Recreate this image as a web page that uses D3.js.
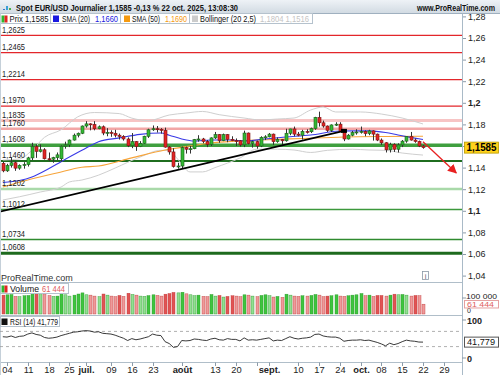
<!DOCTYPE html>
<html><head><meta charset="utf-8">
<script src="https://cdn.jsdelivr.net/npm/d3@7"></script>
<style>body{margin:0;background:#fff}svg{display:block}</style>
</head><body><svg id="c" width="500" height="375"></svg>
<script>
// ---------- DATA ----------
const opens = [1.1440,1.1370,1.1420,1.1445,1.1395,1.1420,1.1428,1.1490,1.1595,1.1550,
1.1565,1.1482,1.1478,1.1492,1.1482,1.1598,1.1610,1.1655,1.1700,1.1718,
1.1785,1.1805,1.1800,1.1760,1.1778,1.1720,1.1726,1.1718,1.1700,1.1688,
1.1665,1.1602,1.1640,1.1595,1.1625,1.1690,1.1750,1.1760,1.1755,1.1745,
1.1590,1.1545,1.1410,1.1415,1.1585,1.1570,1.1575,1.1660,1.1665,1.1642,
1.1615,1.1675,1.1705,1.1650,1.1705,1.1662,1.1650,1.1648,1.1610,1.1720,
1.1622,1.1640,1.1600,1.1680,1.1685,1.1710,1.1640,1.1660,1.1648,1.1718,
1.1758,1.1710,1.1700,1.1735,1.1732,1.1762,1.1865,1.1815,1.1785,1.1745,
1.1795,1.1802,1.1735,1.1665,1.1700,1.1725,1.1730,1.1735,1.1715,1.1740,
1.1710,1.1655,1.1630,1.1565,1.1615,1.1570,1.1610,1.1645,1.1688,1.1655,
1.1642,1.1600];
const highs = [1.1455,1.1435,1.1495,1.1460,1.1430,1.1450,1.1500,1.1630,1.1615,1.1615,
1.1580,1.1540,1.1500,1.1540,1.1605,1.1640,1.1660,1.1715,1.1725,1.1790,
1.1830,1.1810,1.1830,1.1790,1.1790,1.1765,1.1745,1.1750,1.1715,1.1700,
1.1680,1.1720,1.1645,1.1645,1.1695,1.1760,1.1790,1.1785,1.1765,1.1770,
1.1600,1.1580,1.1445,1.1595,1.1595,1.1600,1.1665,1.1700,1.1675,1.1655,
1.1680,1.1730,1.1710,1.1715,1.1710,1.1690,1.1670,1.1655,1.1742,1.1725,
1.1650,1.1650,1.1690,1.1700,1.1720,1.1715,1.1680,1.1665,1.1760,1.1760,
1.1780,1.1730,1.1750,1.1755,1.1770,1.1870,1.1918,1.1835,1.1790,1.1800,
1.1820,1.1820,1.1740,1.1710,1.1740,1.1755,1.1780,1.1745,1.1750,1.1745,
1.1715,1.1670,1.1635,1.1630,1.1625,1.1625,1.1655,1.1690,1.1730,1.1670,
1.1650,1.1610];
const lows = [1.1357,1.1360,1.1400,1.1370,1.1380,1.1390,1.1410,1.1470,1.1490,1.1540,
1.1475,1.1460,1.1445,1.1470,1.1455,1.1575,1.1590,1.1650,1.1680,1.1710,
1.1770,1.1745,1.1745,1.1755,1.1700,1.1690,1.1685,1.1680,1.1660,1.1650,
1.1590,1.1580,1.1555,1.1590,1.1620,1.1675,1.1740,1.1725,1.1715,1.1585,
1.1520,1.1400,1.1390,1.1390,1.1530,1.1530,1.1570,1.1640,1.1625,1.1590,
1.1600,1.1665,1.1630,1.1645,1.1635,1.1645,1.1600,1.1595,1.1590,1.1615,
1.1585,1.1575,1.1590,1.1655,1.1680,1.1610,1.1630,1.1610,1.1640,1.1700,
1.1690,1.1690,1.1660,1.1715,1.1720,1.1750,1.1780,1.1770,1.1730,1.1730,
1.1785,1.1730,1.1645,1.1660,1.1690,1.1705,1.1715,1.1690,1.1700,1.1650,
1.1645,1.1610,1.1540,1.1540,1.1545,1.1540,1.1590,1.1630,1.1650,1.1630,
1.1590,1.1575];
const closes = [1.1370,1.1420,1.1445,1.1395,1.1420,1.1428,1.1490,1.1595,1.1550,1.1565,
1.1482,1.1478,1.1492,1.1518,1.1598,1.1610,1.1655,1.1700,1.1718,1.1785,
1.1805,1.1800,1.1760,1.1778,1.1720,1.1726,1.1718,1.1700,1.1688,1.1665,
1.1602,1.1640,1.1595,1.1625,1.1690,1.1750,1.1760,1.1755,1.1745,1.1590,
1.1545,1.1410,1.1415,1.1585,1.1570,1.1575,1.1660,1.1665,1.1642,1.1615,
1.1675,1.1705,1.1650,1.1705,1.1662,1.1650,1.1648,1.1610,1.1720,1.1622,
1.1640,1.1600,1.1680,1.1685,1.1710,1.1640,1.1660,1.1648,1.1718,1.1758,
1.1710,1.1700,1.1735,1.1732,1.1762,1.1865,1.1815,1.1785,1.1745,1.1795,
1.1802,1.1735,1.1665,1.1700,1.1725,1.1730,1.1735,1.1715,1.1740,1.1710,
1.1655,1.1630,1.1565,1.1615,1.1570,1.1610,1.1645,1.1688,1.1655,1.1642,
1.1600,1.1585];
const volumes = [118000,120000,122000,110000,108000,114000,116000,124000,130000,126000,
122000,115000,110000,112000,134000,120000,112000,118000,125000,132000,
120000,118000,112000,108000,125000,118000,112000,108000,116000,110000,
130000,122000,118000,112000,110000,115000,120000,116000,112000,124000,
128000,135000,132000,136000,126000,120000,114000,118000,110000,108000,
122000,112000,116000,106000,110000,114000,112000,108000,120000,118000,
112000,108000,116000,120000,114000,106000,110000,104000,124000,118000,
112000,110000,114000,112000,116000,122000,118000,108000,112000,114000,
120000,112000,110000,114000,118000,120000,128000,114000,118000,110000,
116000,116000,112000,118000,124000,120000,122000,118000,112000,116000,
114000,61444];
const rsi = [56,55,58,54,57,58,63,66,62,60,
54,52,53,55,59,62,65,68,69,71,
72,71,68,69,65,64,63,60,56,52,
46,51,48,50,53,56,63,60,59,43,
38,28,30,46,45,46,50,49,47,46,
50,52,48,47,51,49,49,45,53,47,
48,47,49,51,53,45,47,46,51,56,
52,50,52,53,55,62,63,58,56,55,
55,52,44,46,47,47,48,46,47,44,
41,37,32,39,35,38,43,47,45,44,
42,41.779];
// indicator knots: [trading-day index, value]
const sma20 = [[0,1.1262],[4,1.1280],[7,1.1313],[11,1.1390],[14,1.1455],[19,1.1560],[23,1.1640],[28,1.1675],[33,1.1708],[38,1.1720],[40,1.1700],[43,1.1665],[46,1.1646],[50,1.1656],[55,1.1655],[58,1.1646],[63,1.1665],[68,1.1683],[74,1.1702],[81,1.1739],[88,1.1740],[92,1.1725],[95,1.1702],[98,1.1680],[101,1.1660]];
const sma50 = [[0,1.1220],[6,1.1285],[13,1.1350],[19,1.1403],[23,1.1415],[31,1.1490],[39,1.1563],[45,1.1600],[50,1.1628],[56,1.1645],[62,1.1656],[72,1.1670],[82,1.1683],[92,1.1688],[101,1.1690]];
const bbUpper = [[0,1.1470],[4,1.1480],[7,1.1560],[10,1.1680],[14,1.1750],[18,1.1870],[22,1.1910],[28,1.1900],[31,1.1858],[35,1.1835],[40,1.1887],[44,1.1905],[48,1.1920],[52,1.1890],[58,1.1859],[62,1.1841],[66,1.1850],[70,1.1859],[74,1.1933],[77,1.1961],[80,1.1915],[86,1.1915],[91,1.1896],[96,1.1859],[101,1.1804]];
const bbLower = [[0,1.1100],[4,1.1130],[9,1.1174],[14,1.1220],[16,1.1267],[19,1.1285],[23,1.1330],[27,1.1396],[33,1.1498],[38,1.1560],[40,1.1560],[42,1.1480],[45,1.1360],[48,1.1360],[51,1.1400],[57,1.1489],[61,1.1570],[66,1.1570],[70,1.1563],[74,1.1540],[78,1.1560],[84,1.1570],[88,1.1563],[92,1.1560],[96,1.1535],[101,1.1516]];
const levels = [1.2625,1.2465,1.2214,1.1970,1.1835,1.1760,1.1608,1.1460,1.1202,1.1012,1.0734,1.0608];
const levelLabels = ["1,2625","1,2465","1,2214","1,1970","1,1835","1,1760","1,1608","1,1460","1,1202","1,1012","1,0734","1,0608"];
const trendLine = [[-1,1.0989],[82,1.1740]];
const arrowLine = [[101,1.1640],[109,1.1350]];
const priceTicks = [1.28,1.26,1.24,1.22,1.2,1.18,1.16,1.14,1.12,1.1,1.08,1.06,1.04];
const timeTickIdx = [1,6,11,16,20,26,31,36,43,51,56,61,64,71,76,81,86,91,96,101,106];
const timeTickLabels = ["04","11","18","25","juil.","09","16","23","août","13","20","","sept.","10","17","24","oct.","08","15","22","29"];
const lastPrice = 1.1585, lastVolume = 61444, lastRsi = 41.779;

// ---------- STYLES ----------
const FONT = "'Liberation Sans Narrow','Arial Narrow','Liberation Sans',sans-serif";
const levelStyle = [
 ["#e3262b",1.3],["#e3262b",1.3],["#e3262b",1.3],["#e3262b",1.3],
 ["#f7c4c4",3],["#f2a6a6",2.5],["#3f9f3f",3.5],["#1f6d1f",2],
 ["#a9d9a9",2.5],["#3c983c",1.5],["#2f8a2f",1.5],["#1d6a1d",3]];

const svg = d3.select("#c").style("font-family",FONT);
const xS = d3.scaleLinear().domain([0,101]).range([2.84,423]);
const yP = d3.scaleLinear().domain([1.06,1.28]).range([254,16.4]);
const yV = d3.scaleLinear().domain([0,100000]).range([314,298]);
const yR = d3.scaleLinear().domain([0,100]).range([358,320]);
const AX = 462;

function fitText(sel, x, y, str, w, size, color, weight, anchor){
  return sel.append("text").attr("x",x).attr("y",y).attr("font-size",size).attr("fill",color)
    .attr("font-weight",weight||"normal").attr("text-anchor",anchor||"start")
    .attr("textLength",w).attr("lengthAdjust","spacingAndGlyphs").text(str);
}

// header
const defs = svg.append("defs");
const g1 = defs.append("linearGradient").attr("id","hdr").attr("x1",0).attr("y1",0).attr("x2",0).attr("y2",1);
g1.append("stop").attr("offset",0).attr("stop-color","#eef2f6");
g1.append("stop").attr("offset",1).attr("stop-color","#d2dbe3");
svg.append("rect").attr("x",0).attr("y",0).attr("width",500).attr("height",13).attr("fill","url(#hdr)");
svg.append("line").attr("x1",0).attr("x2",500).attr("y1",13.5).attr("y2",13.5).attr("stroke","#9fb0bf");
[[3,6,"#3a78c8"],[6,3,"#3aa0d8"],[9,5,"#4bb04b"]].forEach(d=>{
  svg.append("rect").attr("x",d[0]).attr("y",3+d[1]).attr("width",2).attr("height",10-3-d[1]).attr("fill",d[2]);
});
fitText(svg,16,10.5,"Spot EUR/USD Journalier 1,1585 -0,13 % 22 oct. 2025, 13:08:30",222,8.8,"#111","bold");
fitText(svg,495,10.5,"www.ProRealTime.com",78,8.8,"#111","bold","end");

// clip for price panel
defs.append("clipPath").attr("id","pc").append("rect").attr("x",0).attr("y",14).attr("width",AX).attr("height",268);
defs.append("clipPath").attr("id","fc").append("rect").attr("x",0).attr("y",14).attr("width",500).attr("height",268);
const P = svg.append("g").attr("clip-path","url(#pc)");

// levels
levels.forEach((v,i)=>{
  P.append("line").attr("x1",0).attr("x2",AX).attr("y1",yP(v)).attr("y2",yP(v))
   .attr("stroke",levelStyle[i][0]).attr("stroke-width",levelStyle[i][1]);
});
// bollinger & sma
const ln = d3.line().x(d=>xS(d[0])).y(d=>yP(d[1])).curve(d3.curveMonotoneX);
P.append("path").attr("d",ln(bbUpper)).attr("fill","none").attr("stroke","#cfcfcf").attr("stroke-width",1);
P.append("path").attr("d",ln(bbLower)).attr("fill","none").attr("stroke","#cfcfcf").attr("stroke-width",1);
P.append("path").attr("d",ln(sma50)).attr("fill","none").attr("stroke","#f7a43a").attr("stroke-width",1.1);
P.append("path").attr("d",ln(sma20)).attr("fill","none").attr("stroke","#3a3ae6").attr("stroke-width",1.1);

// candles
const idx = d3.range(closes.length);
const cg = P.append("g");
cg.selectAll("line.w").data(idx).join("line")
  .attr("x1",i=>Math.round(xS(i))+0.5).attr("x2",i=>Math.round(xS(i))+0.5)
  .attr("y1",i=>yP(highs[i])).attr("y2",i=>yP(lows[i])).attr("stroke","#333").attr("stroke-width",1);
cg.selectAll("rect").data(idx).join("rect")
  .attr("x",i=>Math.round(xS(i))-1).attr("width",3)
  .attr("y",i=>yP(Math.max(opens[i],closes[i])))
  .attr("height",i=>Math.max(1,yP(Math.min(opens[i],closes[i]))-yP(Math.max(opens[i],closes[i]))))
  .attr("fill",i=>closes[i]>=opens[i]?"#33b833":"#e22424")
  .attr("stroke",i=>closes[i]>=opens[i]?"#1c5e1c":"#7a1414").attr("stroke-width",0.6);

// trendline
P.append("path").attr("d",d3.line().x(d=>xS(d[0])).y(d=>yP(d[1]))(trendLine))
  .attr("stroke","#000").attr("stroke-width",1.8).attr("fill","none");
P.append("rect").attr("x",xS(trendLine[1][0])-3).attr("y",yP(trendLine[1][1])-2).attr("width",6).attr("height",4).attr("fill","#000");

// level labels
levels.forEach((v,i)=>{
  fitText(svg,2,yP(v)-2.8,levelLabels[i],23,8.8,"#222");
});

// arrow
defs.append("marker").attr("id","ah").attr("viewBox","0 0 10 10").attr("refX",9).attr("refY",5)
 .attr("markerWidth",7).attr("markerHeight",7).attr("orient","auto")
 .append("path").attr("d","M0,0L10,5L0,10z").attr("fill","#e82020");
svg.append("g").attr("clip-path","url(#fc)").append("path")
 .attr("d",d3.line().x(d=>xS(d[0])).y(d=>yP(d[1]))(arrowLine))
 .attr("stroke","#e82020").attr("stroke-width",1.3).attr("fill","none").attr("marker-end","url(#ah)");

// legend row
const L = svg.append("g");
L.append("rect").attr("x",0.5).attr("y",13.5).attr("width",312).attr("height",10).attr("fill","#fff").attr("stroke","#b5c2cd");
[50.5,120.5,189.5].forEach(x=>L.append("line").attr("x1",x).attr("x2",x).attr("y1",13.5).attr("y2",23.5).attr("stroke","#b5c2cd"));
L.append("rect").attr("x",1.5).attr("y",15.5).attr("width",3).attr("height",7).attr("fill","#2fb82f");
L.append("rect").attr("x",4.5).attr("y",15.5).attr("width",3).attr("height",7).attr("fill","#e22424");
fitText(L,9.5,21.7,"Prix 1,1585",39,8.8,"#111");
L.append("rect").attr("x",53).attr("y",15.5).attr("width",6).attr("height",6.5).attr("fill","#1a1ae0");
fitText(L,62,21.7,"SMA (20)",28,8.8,"#111");
fitText(L,95,21.7,"1,1660",23,8.8,"#2020e0");
L.append("rect").attr("x",124).attr("y",15.5).attr("width",6).attr("height",6.5).attr("fill","#f59a10");
fitText(L,132,21.7,"SMA (50)",28,8.8,"#111");
fitText(L,165,21.7,"1,1690",22,8.8,"#f59a10");
L.append("rect").attr("x",192).attr("y",15.5).attr("width",6).attr("height",6.5).attr("fill","#cccccc");
fitText(L,200,21.7,"Bollinger (20 2,5)",56,8.8,"#111");
fitText(L,260,21.7,"1,1804 1,1516",49,8.8,"#c4c4c4");

// right price axis
const ra = svg.append("g").attr("transform",`translate(${AX},0)`)
  .call(d3.axisRight(yP).tickValues(priceTicks).tickSize(4).tickPadding(2)
  .tickFormat(d=>Math.abs(d-lastPrice)<0.01?"":String(+d.toFixed(2)).replace(".",",")));
ra.select(".domain").remove();
ra.selectAll("line").attr("stroke","#8c9ba8");
ra.selectAll("text").attr("font-family",FONT).attr("font-size",9).attr("fill","#222")
  .attr("font-weight",d=>Math.abs(d*10-Math.round(d*10))<1e-9?"bold":"normal");

// current price
svg.append("rect").attr("x",464.5).attr("y",yP(lastPrice)-5.5).attr("width",34).attr("height",11)
  .attr("fill","#ffd21c").attr("stroke","#b89a00").attr("stroke-width",0.8);
fitText(svg,466.5,yP(lastPrice)+3.5,"1,1585",30,10,"#000","bold");

// footer of price panel
svg.append("text").attr("x",1).attr("y",280.5).attr("font-size",9).attr("fill","#333").text("ProRealTime.com");
svg.append("rect").attr("x",422.5).attr("y",271.5).attr("width",6).attr("height",8).attr("fill","#fff").attr("stroke","#8a98a6").attr("stroke-width",0.8);
svg.append("text").attr("x",425.5).attr("y",278.5).attr("text-anchor","middle").attr("font-size",7.5).attr("fill","#667").text("i");

// separators
[282.5,315.5,362.5].forEach(y=>svg.append("line").attr("x1",0).attr("x2",AX).attr("y1",y).attr("y2",y).attr("stroke","#b0bec9"));
svg.append("line").attr("x1",AX+0.5).attr("x2",AX+0.5).attr("y1",13.5).attr("y2",375).attr("stroke","#a9bac7");
svg.append("line").attr("x1",0.5).attr("x2",0.5).attr("y1",13.5).attr("y2",375).attr("stroke","#c5d0d9");

// volume
const vg = svg.append("g");
vg.selectAll("rect").data(idx).join("rect")
  .attr("x",i=>Math.round(xS(i))-1).attr("width",3)
  .attr("y",i=>yV(volumes[i])).attr("height",i=>yV(0)-yV(volumes[i]))
  .attr("fill",i=>{const up=closes[i]>=opens[i]; const light=i>0&&volumes[i]<volumes[i-1];
     return up?(light?"#92de92":"#3fc43f"):(light?"#ee9a9a":"#e05454");})
  .attr("stroke",i=>closes[i]>=opens[i]?"#2a9a2a":"#c03a3a").attr("stroke-width",0.4);
const VL = svg.append("g");
VL.append("rect").attr("x",0.5).attr("y",283.5).attr("width",68).attr("height",10).attr("fill","#fff").attr("stroke","#b5c2cd");
VL.append("rect").attr("x",1.5).attr("y",285.5).attr("width",3).attr("height",7).attr("fill","#2fb82f");
VL.append("rect").attr("x",4.5).attr("y",285.5).attr("width",3).attr("height",7).attr("fill","#e22424");
fitText(VL,10,291.7,"Volume",29,9,"#111");
fitText(VL,42,291.7,"61 444",23,9,"#e06060");
fitText(svg,466,yV(100000)+0.5,"100 000",31,8,"#222");
svg.append("text").attr("x",467).attr("y",313.3).attr("font-size",7).attr("fill","#222").text("0");
svg.append("line").attr("x1",AX).attr("x2",AX+4).attr("y1",yV(100000)).attr("y2",yV(100000)).attr("stroke","#8c9ba8");
svg.append("rect").attr("x",464.5).attr("y",yV(lastVolume)-3.7).attr("width",34).attr("height",7.5).attr("fill","#fff").attr("stroke","#e5a0a0");
fitText(svg,467,yV(lastVolume)+2.6,"61 444",27,8,"#e06060");

// RSI
[70,30].forEach(v=>svg.append("line").attr("x1",0).attr("x2",AX).attr("y1",yR(v)).attr("y2",yR(v))
  .attr("stroke","#9a9a9a").attr("stroke-dasharray","3,3").attr("stroke-width",0.8));
svg.append("path").attr("d",d3.line().x((d,i)=>xS(i)).y(d=>yR(d))(rsi)).attr("fill","none").attr("stroke","#222").attr("stroke-width",0.9);
const RL = svg.append("g");
RL.append("rect").attr("x",0.5).attr("y",316.5).attr("width",59).attr("height",10).attr("fill","#fff").attr("stroke","#b5c2cd");
RL.append("rect").attr("x",1.5).attr("y",318.5).attr("width",6).attr("height",6.5).attr("fill","#111");
fitText(RL,10,324.7,"RSI (14) 41,779",48,9,"#111");
svg.append("text").attr("x",467).attr("y",yR(100)+3.8).attr("font-size",9).attr("font-weight","bold").attr("fill","#222").text("100");
svg.append("text").attr("x",467).attr("y",yR(0)+3.5).attr("font-size",9).attr("font-weight","bold").attr("fill","#222").text("0");
[100,0].forEach(v=>svg.append("line").attr("x1",AX).attr("x2",AX+4).attr("y1",yR(v)).attr("y2",yR(v)).attr("stroke","#8c9ba8"));
svg.append("rect").attr("x",464.5).attr("y",yR(lastRsi)-5).attr("width",34).attr("height",10).attr("fill","#fff").attr("stroke","#555");
fitText(svg,467,yR(lastRsi)+3.2,"41,779",28,9.3,"#111");

// time axis
const tg = svg.append("g");
timeTickIdx.forEach((t,k)=>{
  const x = Math.round(xS(t))+0.5;
  tg.append("line").attr("x1",x).attr("x2",x).attr("y1",362.5).attr("y2",366).attr("stroke","#8c9ba8");
  if(timeTickLabels[k]){
    const bold = /[a-z]/.test(timeTickLabels[k]);
    tg.append("text").attr("x",x).attr("y",372.5).attr("text-anchor","middle").attr("font-size",9.3)
      .attr("font-weight",bold?"bold":"normal").attr("fill","#222").text(timeTickLabels[k]);
  }
});
</script></body></html>
